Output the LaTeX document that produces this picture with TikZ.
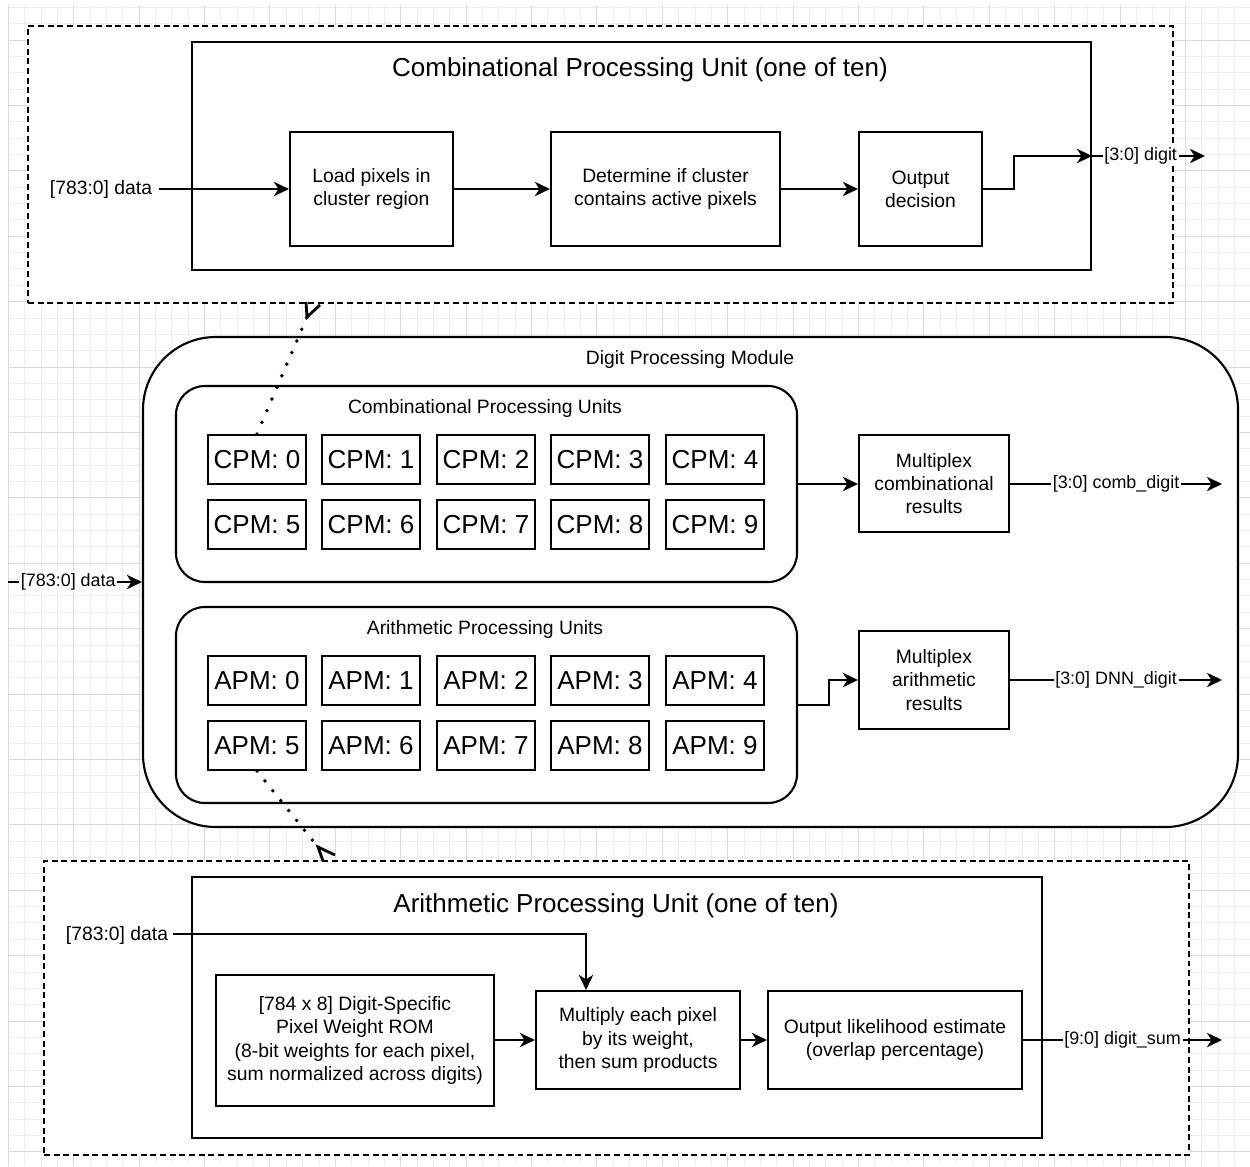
\documentclass[tikz,border=0pt]{standalone}
\usepackage{fontspec}
\setmainfont{Liberation Sans}
\usetikzlibrary{arrows.meta,calc}
\newlength\pxu
\setlength\pxu{0.02cm}
\begin{document}
\begin{tikzpicture}[x=0.02cm, y=-0.02cm,
  bigf/.style={font=\fontsize{14.8pt}{17pt}\selectfont},
  midf/.style={font=\fontsize{11pt}{13.2pt}\selectfont},
  smf/.style={font=\fontsize{10.2pt}{12pt}\selectfont},
  sz/.style 2 args={minimum width=#1\pxu, minimum height=#2\pxu},
  blk/.style={draw, line width=1.2pt, fill=white, align=center, inner sep=0pt},
  dashbox/.style={draw, line width=1.2pt, fill=white, dash pattern=on 3.4pt off 2.1pt, inner sep=0pt},
  rbox/.style={blk, rounded corners=#1},
  conn/.style={line width=1.2pt, -{Stealth[length=8.6pt,width=8.2pt,inset=2.6pt]}},
  elabel/.style={smf, fill=white, inner sep=1pt},
  dotline/.style={line width=2.2pt, dash pattern=on 0pt off 7.2pt, line cap=round},
  chev/.style={line width=1.6pt},
  gminor/.style={draw=black!7, line width=0.5pt},
  gmajor/.style={draw=black!15, line width=0.5pt},
  cell/.style={blk, bigf, sz={98}{49}},
]
\useasboundingbox (0,0) rectangle (1250,1166);
\fill[white] (0,0) rectangle (1250,1166);
% grid
\foreach \i in {0,...,75} {
  \pgfmathsetmacro\xx{8.3+16.35*\i}
  \draw[gminor] (\xx,5) -- (\xx,1166);
}
\foreach \i in {0,...,70} {
  \pgfmathsetmacro\yy{7.3+16.35*\i}
  \draw[gminor] (8.3,\yy) -- (1250,\yy);
}
\foreach \i in {0,...,18} {
  \pgfmathsetmacro\xx{8.3+65.4*\i}
  \draw[gmajor] (\xx,5) -- (\xx,1166);
}
\foreach \i in {0,...,17} {
  \pgfmathsetmacro\yy{40+65.4*\i}
  \draw[gmajor] (8.3,\yy) -- (1250,\yy);
}

% ---------- top: combinational processing unit ----------
\node[dashbox, sz={1145}{277}] (topdash) at (600.5,164.5) {};
\node[blk, sz={899}{228}] (cpu) at (641.5,156) {};
\node[bigf] (cputitle) at (640,70) {Combinational Processing Unit (one of ten)};
\node[blk, midf, sz={163}{114}] (load) at (371.5,189) {Load pixels in\\cluster region};
\node[blk, midf, sz={229}{114}] (det) at (665.5,189) {Determine if cluster\\contains active pixels};
\node[blk, midf, sz={123}{114}] (outd) at (920.5,189) {Output\\decision};
\node[midf, inner sep=0pt] (datatop) at (101,190) {[783:0] data};

% ---------- middle: digit processing module ----------
\node[rbox=41.4pt, sz={1095}{490}] (dpm) at (690.5,582) {};
\node[midf] (dpmtitle) at (690,359) {Digit Processing Module};
\node[rbox=16.4pt, sz={621}{196}] (cgrp) at (486.5,484) {};
\node[midf] (cgrptitle) at (485,408) {Combinational Processing Units};
\node[rbox=16.4pt, sz={621}{196}] (agrp) at (486.5,705) {};
\node[midf] (agrptitle) at (485,629) {Arithmetic Processing Units};

\node[cell] (cpm0) at (257,459.5) {CPM: 0};
\node[cell] (cpm1) at (371,459.5) {CPM: 1};
\node[cell] (cpm2) at (486,459.5) {CPM: 2};
\node[cell] (cpm3) at (600,459.5) {CPM: 3};
\node[cell] (cpm4) at (715,459.5) {CPM: 4};
\node[cell] (cpm5) at (257,524.5) {CPM: 5};
\node[cell] (cpm6) at (371,524.5) {CPM: 6};
\node[cell] (cpm7) at (486,524.5) {CPM: 7};
\node[cell] (cpm8) at (600,524.5) {CPM: 8};
\node[cell] (cpm9) at (715,524.5) {CPM: 9};

\node[cell] (apm0) at (257,680.5) {APM: 0};
\node[cell] (apm1) at (371,680.5) {APM: 1};
\node[cell] (apm2) at (486,680.5) {APM: 2};
\node[cell] (apm3) at (600,680.5) {APM: 3};
\node[cell] (apm4) at (715,680.5) {APM: 4};
\node[cell] (apm5) at (257,745.5) {APM: 5};
\node[cell] (apm6) at (371,745.5) {APM: 6};
\node[cell] (apm7) at (486,745.5) {APM: 7};
\node[cell] (apm8) at (600,745.5) {APM: 8};
\node[cell] (apm9) at (715,745.5) {APM: 9};

\node[blk, midf, sz={150}{97}] (muxc) at (934,483.5) {Multiplex\\combinational\\results};
\node[blk, midf, sz={150}{98}] (muxa) at (934,680) {Multiplex\\arithmetic\\results};

% ---------- bottom: arithmetic processing unit ----------
\node[dashbox, sz={1145}{294}] (botdash) at (616.5,1008) {};
\node[blk, sz={850}{261}] (apu) at (617,1007.5) {};
\node[bigf] (aputitle) at (616,906) {Arithmetic Processing Unit (one of ten)};
\node[blk, midf, sz={278}{131}] (rom) at (355,1040.5) {[784 x 8] Digit-Specific\\Pixel Weight ROM\\(8-bit weights for each pixel,\\sum normalized across digits)};
\node[blk, midf, sz={204}{98}] (mult) at (638,1040) {Multiply each pixel\\by its weight,\\then sum products};
\node[blk, midf, sz={254}{98}] (lik) at (895,1040) {Output likelihood estimate\\(overlap percentage)};
\node[midf, inner sep=0pt] (databot) at (117,935) {[783:0] data};

% ---------- connectors ----------
\coordinate (bend1) at (1014,156);
\coordinate (digitend) at (1205,156);
\coordinate (datain) at (8,582);
\coordinate (combend) at (1222,484);
\coordinate (bend2) at (829,680);
\coordinate (dnnend) at (1222,680);
\coordinate (sumend) at (1222,1040);

\draw[conn] (datatop.east |- load.west) ++(7,0) -- (load.west);
\draw[conn] (load.east) -- (det.west);
\draw[conn] (det.east) -- (outd.west);
\draw[conn] (outd.east) -| (bend1) -- (bend1 -| cpu.east);
\draw[conn] (bend1 -| cpu.east) -- (digitend) node[elabel, pos=0.43] {[3:0] digit};

\draw[conn] (datain) -- (dpm.west) node[elabel, pos=0.45] {[783:0] data};
\draw[conn] (cgrp.east) -- (cgrp.east -| muxc.west);
\draw[conn] (muxc.east |- combend) -- (combend) node[elabel, pos=0.5] {[3:0] comb\_digit};
\draw[conn] (agrp.east) -| (bend2) -- (muxa.west);
\draw[conn] (muxa.east) -- (dnnend) node[elabel, pos=0.5] {[3:0] DNN\_digit};

\coordinate (multin) at ($(mult.north)+(-52,0)$);
\draw[conn] (databot.east) ++(5,-1) -| (multin);
\draw[conn] (rom.east |- mult.west) -- (mult.west);
\draw[conn] (mult.east) -- (lik.west);
\draw[conn] (lik.east) -- (sumend) node[elabel, pos=0.5] {[9:0] digit\_sum};

% dotted links to the detail views
\coordinate (va) at (307,317);
\coordinate (vb) at (318,847);
\draw[dotline] (cpm0.north) -- (va);
\draw[chev] ($(va)+(-1,-15)$) -- (va) -- ($(va)+(13,-12)$);
\draw[dotline] (apm5.south) -- (vb);
\draw[chev] ($(vb)+(5,14)$) -- (vb) -- ($(vb)+(17,8)$);
\end{tikzpicture}
\end{document}
